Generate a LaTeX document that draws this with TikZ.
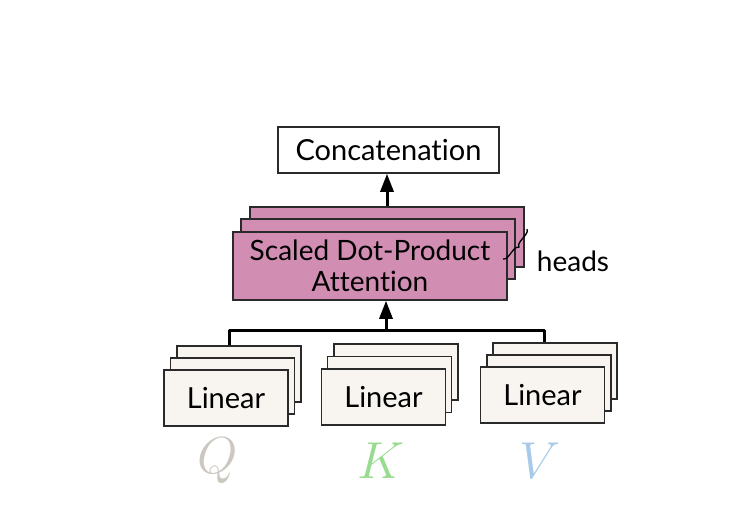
\RequirePackage{fix-cm}
\documentclass[tikz,border=0pt]{standalone}
\usepackage{fontspec}
\setmainfont{Lato}[Ligatures=NoCommon]
\usetikzlibrary{arrows.meta,decorations.pathreplacing}
\definecolor{attfill}{HTML}{D28DB3}
\definecolor{linfill}{HTML}{F8F5F0}
\definecolor{boxline}{HTML}{2A2A2A}
\definecolor{qcol}{HTML}{CCC8C1}
\definecolor{kcol}{HTML}{97DB8E}
\definecolor{vcol}{HTML}{A6CAE8}
\tikzset{
  boxbase/.style={draw=boxline, line width=1.5pt, inner sep=0pt, anchor=center},
  concatbox/.style={boxbase, fill=white, minimum width=221pt, minimum height=46pt, font=\fontsize{29}{32}\selectfont},
  attbox/.style={boxbase, fill=attfill, minimum width=274pt, font=\fontsize{28}{31}\selectfont, align=center},
  linbox/.style={boxbase, fill=linfill, minimum width=124pt, minimum height=56pt, font=\fontsize{29}{32}\selectfont},
  conn/.style={line width=3pt, draw=black},
  arr/.style={conn, -{Triangle[length=18pt,width=13pt]}},
  qkv/.style={font=\fontsize{52}{52}\selectfont, anchor=center},
}
\begin{document}
\begin{tikzpicture}[x=1pt,y=-1pt]
\useasboundingbox (0,0) rectangle (753,527);
% Concatenation
\node[concatbox] (concat) at (388.5,150) {Concatenation};
% attention stack
\node[attbox, minimum height=60pt] (att3) at (387,237) {};
\node[attbox, minimum height=60pt] (att2) at (378,249) {};
\node[attbox, minimum height=68pt] (att1) at (370,266) {Scaled Dot-Product\\Attention};
\node[font=\fontsize{28}{31}\selectfont, anchor=center] (heads) at (573,261) {heads};
\coordinate (braceA) at (527,229);
\coordinate (braceB) at (503,259);
\draw[line width=1.3pt, decorate, decoration={brace, amplitude=5pt}] (braceA) -- (braceB);
% linear stacks
\node[linbox] (q3) at (239,374) {};
\node[linbox] (q2) at (232.5,386) {};
\node[linbox] (q1) at (226,398) {Linear};
\node[linbox] (k3) at (396,372) {};
\node[linbox] (k2) at (389.5,384.5) {};
\node[linbox] (k1) at (383.5,397) {Linear};
\node[linbox] (v3) at (555,371) {};
\node[linbox] (v2) at (549,383) {};
\node[linbox] (v1) at (542.5,395) {Linear};
% bus
\coordinate (qdrop) at (229,330);
\coordinate (vdrop) at (544,330);
\coordinate (busmid) at (386,330);
\draw[conn, line join=round] (qdrop |- q3.north) -- (qdrop) -- (vdrop) -- (vdrop |- v3.north);
\draw[arr] (busmid) -- (busmid |- att1.south);
\draw[arr] (att3.north) -- (att3.north |- concat.south);
% inputs
\node[qkv, text=qcol] (Q) at (218,461) {$Q$};
\node[qkv, text=kcol] (K) at (381,461) {$K$};
\node[qkv, text=vcol] (V) at (540,461) {$V$};
\end{tikzpicture}
\end{document}
